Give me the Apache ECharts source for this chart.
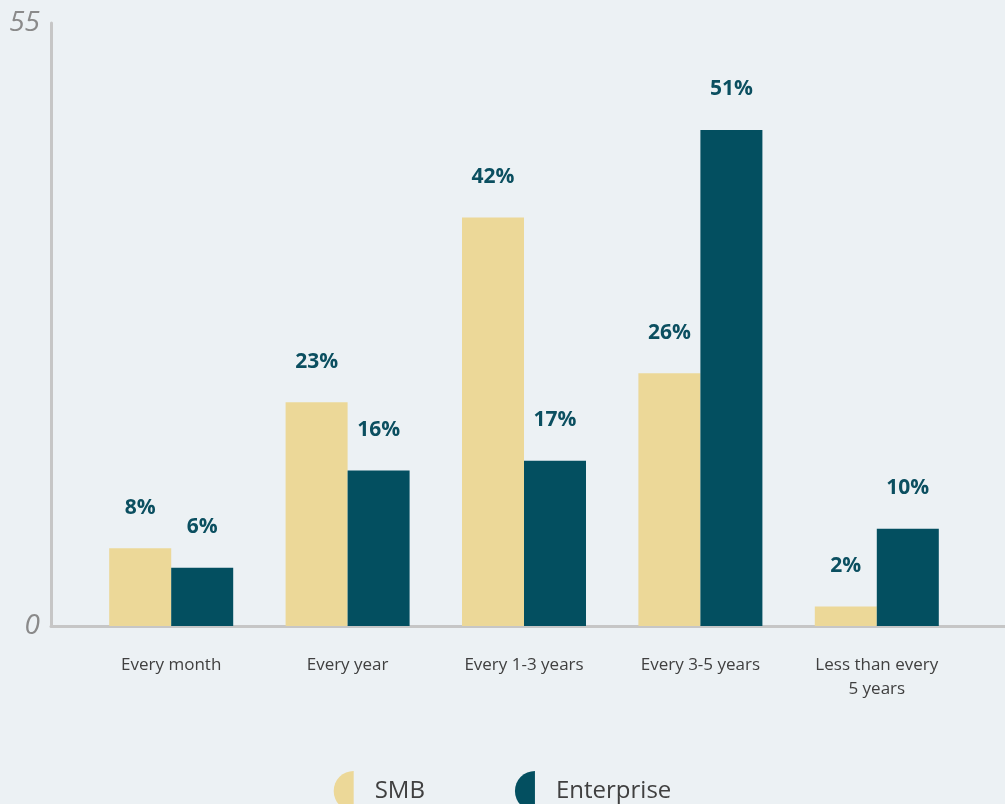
<!DOCTYPE html>
<html>
<head>
<meta charset="utf-8">
<title>Replacement frequency: SMB vs Enterprise</title>
<script src="https://cdn.jsdelivr.net/npm/echarts@6/dist/echarts.min.js"></script>
<style>
  html, body { margin: 0; padding: 0; background: #ecf1f4; }
  #chart { width: 1005px; height: 804px; }
</style>
</head>
<body>
<div id="chart"></div>
<script>
// Categories and survey shares (percent)
const categories = ['Every month', 'Every year', 'Every 1-3 years', 'Every 3-5 years', 'Less than every\n5 years'];
const smbValues = [8, 23, 42, 26, 2];
const enterpriseValues = [6, 16, 17, 51, 10];
const seriesNames = ['SMB', 'Enterprise'];
// Value-axis range and the labels printed at its two ends
const yAxisMin = 0;
const yAxisMax = 62;
const yTickLabels = ['0', '55'];

const SMB_COLOR = '#ecd898';
const ENT_COLOR = '#034f60';
const AXIS_COLOR = '#c6c6c6';
const FONT = '"Open Sans", "Noto Sans", sans-serif';

const halfCircle = 'path://M20,0 A20,20 0 0,0 20,40 Z';

const chart = echarts.init(document.getElementById('chart'), null, { renderer: 'canvas' });

const valueLabel = {
  show: true,
  position: 'top',
  distance: 30,
  formatter: '{c}%',
  color: '#0b4f60',
  fontFamily: FONT,
  fontWeight: 'bold',
  fontSize: 21
};

chart.setOption({
  backgroundColor: '#ecf1f4',
  animation: false,
  grid: [
    // frame grid: carries the long axis lines and end labels
    { left: 51, right: -4, top: 23, bottom: 178, containLabel: false },
    // data grid: where the bars sit
    { left: 83, right: 40, top: 23, bottom: 178, containLabel: false }
  ],
  legend: {
    data: seriesNames.map((n, i) => ({ name: n, icon: halfCircle, itemStyle: { color: i ? ENT_COLOR : SMB_COLOR } })),
    left: 'center',
    top: 766,
    itemWidth: 20,
    itemHeight: 40,
    itemGap: 90,
    textStyle: {
      fontFamily: FONT,
      fontSize: 24,
      color: '#404040',
      padding: [0, 0, 0, 16]
    }
  },
  xAxis: [
    {
      type: 'value',
      gridIndex: 0,
      min: 0,
      max: 1,
      axisLine: { show: true, onZero: false, lineStyle: { color: AXIS_COLOR, width: 3 } },
      axisTick: { show: false },
      axisLabel: { show: false },
      splitLine: { show: false }
    },
    {
      type: 'category',
      gridIndex: 1,
      data: categories,
      axisLine: { show: false },
      axisTick: { show: false },
      splitLine: { show: false },
      axisLabel: {
        margin: 27,
        fontFamily: FONT,
        fontSize: 17,
        lineHeight: 24,
        color: '#404040',
        interval: 0
      }
    }
  ],
  yAxis: [
    {
      type: 'value',
      gridIndex: 0,
      min: yAxisMin,
      max: yAxisMax,
      interval: yAxisMax - yAxisMin,
      axisLine: { show: true, lineStyle: { color: AXIS_COLOR, width: 3 } },
      axisTick: { show: false },
      splitLine: { show: false },
      axisLabel: {
        margin: 11,
        fontFamily: FONT,
        fontStyle: 'italic',
        fontSize: 28,
        color: '#8a8a8a',
        formatter: (v, i) => yTickLabels[i]
      }
    },
    {
      type: 'value',
      gridIndex: 1,
      min: yAxisMin,
      max: yAxisMax,
      show: false,
      splitLine: { show: false }
    }
  ],
  series: [
    {
      name: seriesNames[0],
      type: 'bar',
      xAxisIndex: 1,
      yAxisIndex: 1,
      data: smbValues,
      barWidth: 62,
      barGap: '0%',
      itemStyle: { color: SMB_COLOR },
      label: valueLabel
    },
    {
      name: seriesNames[1],
      type: 'bar',
      xAxisIndex: 1,
      yAxisIndex: 1,
      data: enterpriseValues,
      barWidth: 62,
      barGap: '0%',
      itemStyle: { color: ENT_COLOR },
      label: valueLabel
    }
  ]
});
</script>
</body>
</html>
